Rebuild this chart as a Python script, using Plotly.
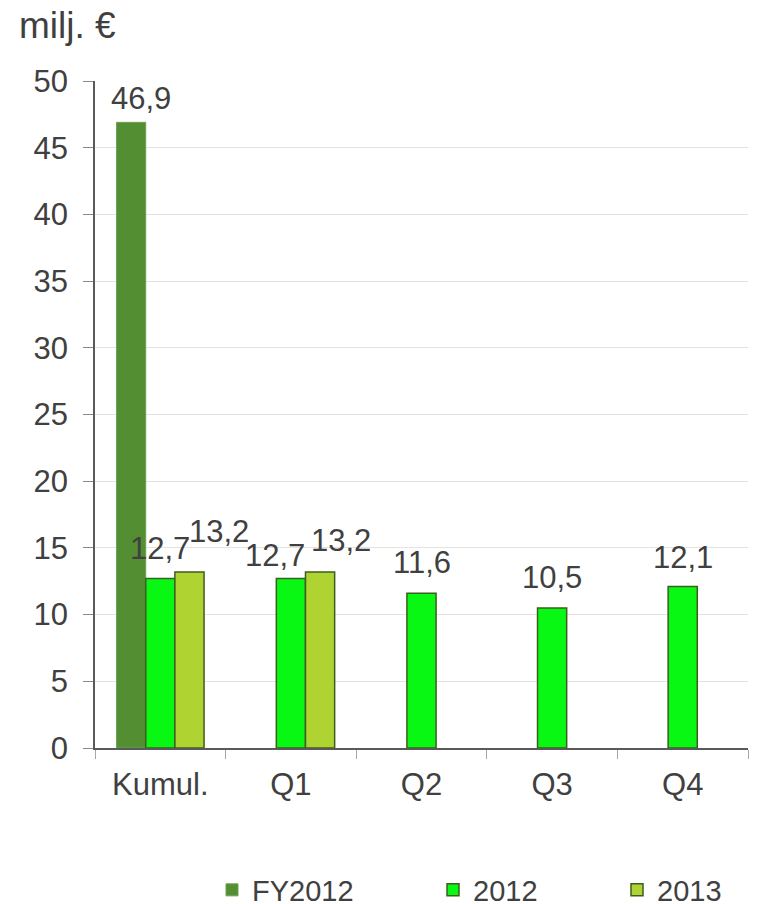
import plotly.graph_objects as go

categories = ["Kumul.", "Q1", "Q2", "Q3", "Q4"]
fy2012 = [46.9, None, None, None, None]
y2012 = [12.7, 12.7, 11.6, 10.5, 12.1]
y2013 = [13.2, 13.2, None, None, None]

FONT = "Liberation Sans, Arial, sans-serif"
TXT = "#404040"

# label nudges in pixels (dx, gap above bar) per series, as placed in the original
label_dx = {"FY2012": [10, 0, 0, 0, 0], "2012": [0, -16, 0, 0, 0], "2013": [30, 21, 0, 0, 0]}
label_gap = {"FY2012": [11, 0, 0, 0, 0], "2012": [18, 11, 18, 18, 17], "2013": [28, 19, 0, 0, 0]}

fig = go.Figure()
series = [
    ("FY2012", fy2012, "#548E32", "#6E9F50", 1, "legend"),
    ("2012", y2012, "#08F814", "#3C5E20", 1.5, "legend2"),
    ("2013", y2013, "#AFD431", "#3C5E20", 1.5, "legend3"),
]
for name, vals, col, lcol, lw, lg in series:
    fig.add_trace(go.Bar(
        name=name, x=categories, y=vals,
        marker=dict(color=col, line=dict(color=lcol, width=lw)),
        legend=lg, showlegend=True,
    ))

PLOT_W = 653
BARGAP = 0.33
bar_w = PLOT_W / len(categories) * (1 - BARGAP) / len(series)

annotations = []
for i, (name, vals, *_rest) in enumerate(series):
    slot = (i - (len(series) - 1) / 2) * bar_w
    for j, v in enumerate(vals):
        if v is None:
            continue
        annotations.append(dict(
            x=categories[j], y=v, xref="x", yref="y",
            text=f"{v:.1f}".replace(".", ","), showarrow=False,
            xanchor="center", yanchor="bottom",
            xshift=slot + label_dx[name][j], yshift=label_gap[name][j] - 7,
            font=dict(family=FONT, size=31, color=TXT),
        ))

annotations.append(dict(
    text="milj. €", xref="paper", yref="paper",
    x=-78 / 653, y=1 + 56 / 667,
    showarrow=False, xanchor="left", yanchor="middle",
    font=dict(family=FONT, size=37, color=TXT),
))

# page body has an 8px offset; plot area spans ref x 95..748, y 81..748
def leg(xpx):
    return dict(orientation="h", xref="paper", yref="paper",
                x=(xpx - 95) / 653, y=-(890 - 748) / 667,
                xanchor="left", yanchor="middle", bgcolor="rgba(0,0,0,0)",
                font=dict(family=FONT, size=29, color=TXT), borderwidth=0)

fig.update_layout(
    width=772, height=896,
    margin=dict(l=87, r=32, t=73, b=156, autoexpand=False),
    paper_bgcolor="white", plot_bgcolor="white",
    barmode="group", bargap=BARGAP, bargroupgap=0,
    font=dict(family=FONT, size=31, color=TXT),
    showlegend=True,
    legend=leg(212),
    legend2=leg(433),
    legend3=leg(617),
    xaxis=dict(
        type="category", tickson="boundaries", ticks="outside", ticklen=9,
        tickcolor="#A6A6A6", showline=True, linecolor="#595959", linewidth=1.5,
        tickfont=dict(family=FONT, size=31, color=TXT), ticklabelstandoff=8,
        showgrid=False, automargin=False,
    ),
    yaxis=dict(
        range=[0, 50], dtick=5, ticks="outside", ticklen=10, tickcolor="#888888",
        showline=True, linecolor="#595959", linewidth=1.5,
        gridcolor="#E3E3E3", gridwidth=1,
        tickfont=dict(family=FONT, size=31, color=TXT), ticklabelstandoff=9,
        zeroline=False, automargin=False,
    ),
    annotations=annotations,
)

fig.write_html("out.html")
